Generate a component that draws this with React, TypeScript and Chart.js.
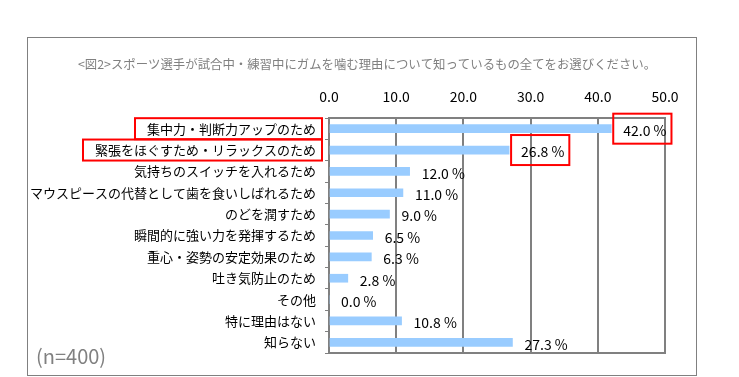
import React, { useEffect, useRef } from "react";
import { Chart, registerables } from "chart.js";

Chart.register(...registerables);

const categories = [
  "集中力・判断力アップのため",
  "緊張をほぐすため・リラックスのため",
  "気持ちのスイッチを入れるため",
  "マウスピースの代替として歯を食いしばれるため",
  "のどを潤すため",
  "瞬間的に強い力を発揮するため",
  "重心・姿勢の安定効果のため",
  "吐き気防止のため",
  "その他",
  "特に理由はない",
  "知らない",
];
const values = [42.0, 26.8, 12.0, 11.0, 9.0, 6.5, 6.3, 2.8, 0.0, 10.8, 27.3];
const highlighted = [0, 1];
const xTicks = [0, 10, 20, 30, 40, 50];
const titleText = "<図2>スポーツ選手が試合中・練習中にガムを噛む理由について知っているもの全てをお選びください。";
const noteText = "(n=400)";

const FONT = '"Noto Sans CJK JP", "Noto Sans", sans-serif';

const overlayPlugin = {
  id: "overlay",
  beforeDraw(chart: any) {
    const ctx = chart.ctx;
    ctx.save();
    ctx.fillStyle = "#ffffff";
    ctx.fillRect(0, 0, chart.width, chart.height);
    ctx.restore();
  },
  afterDraw(chart: any) {
    const ctx = chart.ctx;
    const area = chart.chartArea;
    const meta = chart.getDatasetMeta(0);
    ctx.save();
    // outer frame
    ctx.strokeStyle = "#808080";
    ctx.lineWidth = 1;
    ctx.strokeRect(27.5, 37.5, 669, 338);
    // title
    ctx.fillStyle = "#808080";
    ctx.font = `12.4px ${FONT}`;
    ctx.textAlign = "center";
    ctx.textBaseline = "middle";
    ctx.fillText(titleText, 367, 64);
    // note
    ctx.font = `20px ${FONT}`;
    ctx.textAlign = "left";
    ctx.fillText(noteText, 36, 356);
    // bottom border
    ctx.strokeStyle = "#808080";
    ctx.lineWidth = 2;
    ctx.beginPath();
    ctx.moveTo(area.left - 1, area.bottom);
    ctx.lineTo(area.right + 1, area.bottom);
    ctx.stroke();
    // value labels
    ctx.textAlign = "left";
    ctx.textBaseline = "middle";
    const xScale = chart.scales.x;
    const yScale = chart.scales.y;
    values.forEach((v, i) => {
      const bar = meta.data[i];
      const tx = xScale.getPixelForValue(v) + 12;
      const ty = bar.y + 2;
      const label = v.toFixed(1) + " %";
      ctx.font = `14px ${FONT}`;
      ctx.fillStyle = "#000000";
      ctx.fillText(label, tx, ty);
      if (highlighted.includes(i)) {
        const w = ctx.measureText(label).width;
        ctx.strokeStyle = "#ff0000";
        ctx.lineWidth = 2;
        ctx.strokeRect(tx - 10, bar.y - 15, w + 15, 30);
        // category label box
        ctx.font = `13px ${FONT}`;
        const lw = ctx.measureText(categories[i]).width;
        const labelRight = area.left - 13;
        const cy = yScale.getPixelForValue(i);
        ctx.strokeRect(labelRight - lw - 12, cy - 10.5, lw + 18, 21);
      }
    });
    ctx.restore();
  },
};

export default function App() {
  const ref = useRef<HTMLCanvasElement | null>(null);
  useEffect(() => {
    if (!ref.current) return;
    const chart = new Chart(ref.current, {
      type: "bar",
      data: {
        labels: categories,
        datasets: [
          {
            data: values,
            backgroundColor: "#99CCFF",
            barThickness: 8,
          },
        ],
      },
      options: {
        indexAxis: "y",
        responsive: false,
        animation: false,
        layout: { padding: { left: 0, top: 0, right: 74, bottom: 24 } },
        plugins: { legend: { display: false }, tooltip: { enabled: false } },
        scales: {
          x: {
            position: "top",
            min: 0,
            max: 50,
            afterBuildTicks(scale: any) {
              scale.ticks = xTicks.map((v) => ({ value: v }));
            },
            afterFit(scale: any) {
              scale.height = 118;
            },
            ticks: {
              padding: 13,
              color: "#000000",
              font: { family: FONT, size: 14 },
              callback: (v: any) => Number(v).toFixed(1),
            },
            grid: { color: "#808080", lineWidth: 2, drawTicks: false },
            border: { color: "#808080", width: 2 },
          },
          y: {
            afterFit(scale: any) {
              scale.width = 329;
            },
            ticks: {
              padding: 9,
              color: "#000000",
              font: { family: FONT, size: 13 },
            },
            grid: {
              offset: true,
              drawOnChartArea: false,
              drawTicks: true,
              tickLength: 4,
              color: "#808080",
              lineWidth: 1,
            },
            border: { color: "#808080", width: 2 },
          },
        },
      },
      plugins: [overlayPlugin],
    });
    return () => chart.destroy();
  }, []);
  return (
    <div style={{ position: "fixed", left: 0, top: 0, width: 739, height: 377 }}>
      <canvas ref={ref} width={739} height={377} style={{ width: 739, height: 377 }} />
    </div>
  );
}
